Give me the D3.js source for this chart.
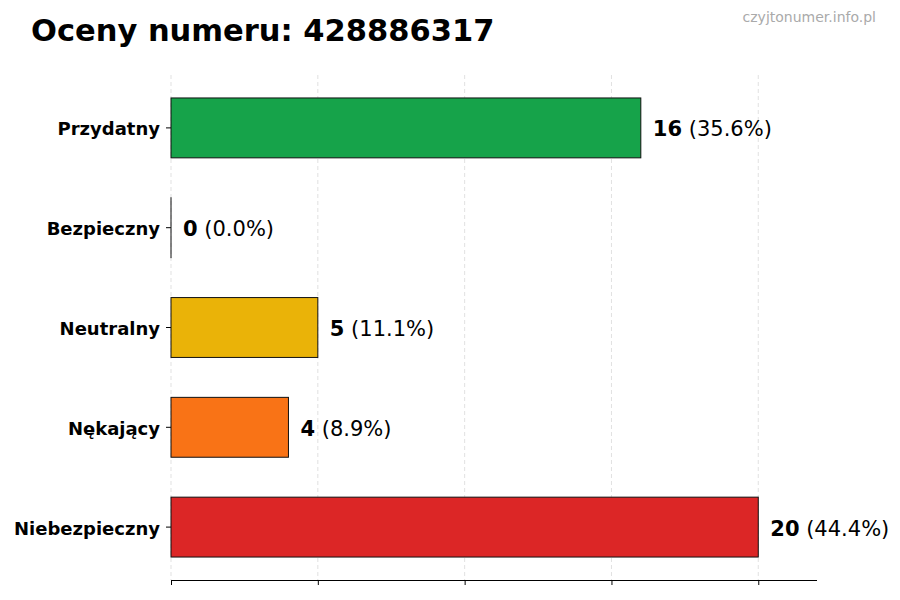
<!DOCTYPE html>
<html>
<head>
<meta charset="utf-8">
<script src="https://cdn.jsdelivr.net/npm/d3@7"></script>
<style>
  body { margin: 0; background: #fff; }
  svg { font-family: "DejaVu Sans", sans-serif; }
</style>
</head>
<body>
<div id="chart"></div>
<script>
const categories = ["Przydatny", "Bezpieczny", "Neutralny", "Nękający", "Niebezpieczny"];
const counts = [16, 0, 5, 4, 20];
const percents = ["35.6%", "0.0%", "11.1%", "8.9%", "44.4%"];
const barColors = ["#16a34a", "#2563eb", "#eab308", "#f97316", "#dc2626"];
const xTicks = [0, 5, 10, 15, 20];

const width = 900;
const height = 600;

const svg = d3.select("#chart")
    .append("svg")
    .attr("width", width)
    .attr("height", height);

const xScale = d3.scaleLinear()
    .domain([0, 22])
    .range([171, 817]);

const yScale = d3.scaleBand()
    .domain(categories)
    .range([78, 577])
    .paddingInner(0.4)
    .paddingOuter(0.2);

// grid
svg.append("g")
    .selectAll("line")
    .data(xTicks)
    .join("line")
    .attr("x1", d => xScale(d))
    .attr("x2", d => xScale(d))
    .attr("y1", 75)
    .attr("y2", 580)
    .attr("stroke", "#d9d9d9")
    .attr("stroke-width", 0.8)
    .attr("stroke-dasharray", "4,3");

// bottom axis, no labels
svg.append("g")
    .attr("transform", "translate(0,580)")
    .call(d3.axisBottom(xScale).tickValues(xTicks).tickFormat("").tickSize(5).tickSizeOuter(0))
    .call(g => g.select(".domain").attr("stroke", "#000").attr("d", "M171.5,0.5H817"));

// left axis, ticks only
const yAxis = svg.append("g")
    .attr("transform", "translate(171,0)")
    .call(d3.axisLeft(yScale).tickSize(5).tickPadding(6).tickSizeOuter(0));
yAxis.select(".domain").remove();
yAxis.selectAll("text")
    .attr("font-family", "DejaVu Sans")
    .attr("font-size", 18)
    .attr("font-weight", "bold")
    .attr("dy", "0.42em")
    .attr("fill", "#000");

// bars (zero-length bars keep a hairline so the outline still shows)
svg.append("g")
    .selectAll("rect")
    .data(categories)
    .join("rect")
    .attr("x", xScale(0))
    .attr("y", d => yScale(d))
    .attr("width", (d, i) => Math.max(xScale(counts[i]) - xScale(0), 0.01))
    .attr("height", yScale.bandwidth())
    .attr("fill", (d, i) => barColors[i])
    .attr("stroke", "#111")
    .attr("stroke-width", 1);

// value labels
const labels = svg.append("g")
    .selectAll("text")
    .data(categories)
    .join("text")
    .attr("x", (d, i) => xScale(counts[i]) + 12)
    .attr("y", d => yScale(d) + yScale.bandwidth() / 2)
    .attr("dy", "0.4em")
    .attr("font-size", 21)
    .attr("fill", "#000");
labels.append("tspan")
    .attr("font-weight", "bold")
    .text((d, i) => counts[i]);
labels.append("tspan")
    .text((d, i) => " (" + percents[i] + ")");

// title
svg.append("text")
    .attr("x", 31)
    .attr("y", 41)
    .attr("font-size", 30.5)
    .attr("font-weight", "bold")
    .attr("fill", "#000")
    .text("Oceny numeru: 428886317");

svg.append("text")
    .attr("x", 876)
    .attr("y", 22)
    .attr("text-anchor", "end")
    .attr("font-size", 14)
    .attr("fill", "#aaa")
    .text("czyjtonumer.info.pl");
</script>
</body>
</html>
